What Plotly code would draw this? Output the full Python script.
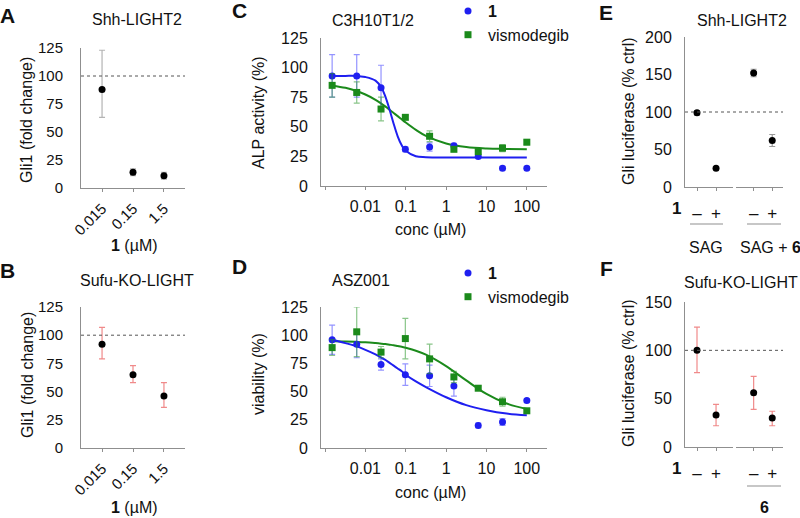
import plotly.graph_objects as go

W, H = 800, 518
FONT = "Liberation Sans, Arial, Helvetica, sans-serif"
AXIS_GREY = "#8f8f8f"
BLUE = "#1f1ff0"
GREEN = "#1b8a1b"

# ---- values ----
dose_labels = ["0.015", "0.15", "1.5"]

a_gli1 = [88, 14, 11]
a_err_up = [35, 3, 3]
a_err_dn = [25, 3, 3]

b_gli1 = [92, 65, 46]
b_err_up = [15, 8, 12]
b_err_dn = [13, 7, 10]

conc = [0.0015, 0.0061, 0.0244, 0.0977, 0.39, 1.56, 6.25, 25, 100]

c_cpd1 = [93, 93, 83, 31, 33, 34, 25, 15, 15]
c_cpd1_err = [18, 18, 19, 2, 3.5, 2, 1.5, 1.5, 1.5]
c_vismo = [85, 79, 65, 58, 42, 31, 29, 32, 37]
c_vismo_err = [10, 9, 10, 1.5, 4.5, 1.5, 2, 3, 2]

d_cpd1 = [96, 92, 74, 65, 64, 55, 20, 23, 42]
d_cpd1_err = [13, 12, 5, 9.5, 9.5, 9, 2, 3, 1.5]
d_vismo = [89, 103, 85, 97, 79, 63, 53, 41, 33]
d_vismo_err = [7, 22, 5, 18, 13, 5, 2, 4, 2]

# fitted curves
fit_conc = [0.0015, 0.0032, 0.0056, 0.01, 0.0178, 0.0251, 0.0316, 0.0398, 0.0501,
            0.0631, 0.0794, 0.1, 0.178, 0.316, 1, 3.16, 10, 31.6, 100]
c_fit_cpd1 = [93, 93, 93, 92, 89, 83, 75, 64.4, 52.6, 42, 34.4, 29.7, 25.1, 24.3,
              24, 24, 24, 24, 24]
c_fit_vismo = [84.7, 82.9, 80.6, 77.3, 72.8, 69.4, 67, 64.4, 61.7, 59, 56.3, 53.6,
               47.4, 42.3, 35.9, 32.9, 31.7, 31.3, 31.1]
d_fit_cpd1 = [96, 93, 90.5, 87, 83, 80, 78, 75.5, 73, 70.5, 68, 65, 59, 54, 45,
              38, 33.5, 30.5, 29]
d_fit_vismo = [94.6, 94.4, 94.1, 93.7, 93, 92.5, 92.1, 91.6, 91.1, 90.4, 89.7, 88.8,
               86.2, 82.7, 72.6, 59.9, 47.9, 39.4, 34.6]

cpd1_labels = ["–", "+"]
e_sag = [99, 25]
e_sag_err = [3, 1.5]
e_sag6 = [152, 62]
e_sag6_err = [5, 8]

f_ctrl = [100, 33]
f_ctrl_up = [24, 11]
f_ctrl_dn = [23, 11]
f_cpd6 = [56, 30]
f_cpd6_up = [17, 7]
f_cpd6_dn = [17, 8]


def px(x):
    return x / W


def py(y):
    return 1 - y / H


def err(up, dn, color):
    return dict(type="data", symmetric=False, array=up, arrayminus=dn,
                color=color, thickness=1.2, width=3)


def black_dots(x, y, up, dn, ecolor, xa, ya):
    return go.Scatter(x=x, y=y, mode="markers", xaxis=xa, yaxis=ya,
                      marker=dict(color="black", size=7),
                      error_y=err(up, dn, ecolor), showlegend=False)


fig = go.Figure()

# A and B: Gli1 vs dose of 1
fig.add_trace(black_dots(dose_labels, a_gli1, a_err_up, a_err_dn, "#b4b4b4", "x", "y"))
fig.add_trace(black_dots(dose_labels, b_gli1, b_err_up, b_err_dn, "#f08a8a", "x2", "y2"))

# C and D: dose-response curves
for xa, ya, s1, e1, s2, e2, f1, f2, leg in [
        ("x3", "y3", c_cpd1, c_cpd1_err, c_vismo, c_vismo_err, c_fit_cpd1, c_fit_vismo, "legend"),
        ("x4", "y4", d_cpd1, d_cpd1_err, d_vismo, d_vismo_err, d_fit_cpd1, d_fit_vismo, "legend2")]:
    fig.add_trace(go.Scatter(x=fit_conc, y=f2, mode="lines", xaxis=xa, yaxis=ya,
                             line=dict(color=GREEN, width=2, shape="spline"),
                             showlegend=False))
    fig.add_trace(go.Scatter(x=fit_conc, y=f1, mode="lines", xaxis=xa, yaxis=ya,
                             line=dict(color=BLUE, width=2, shape="spline"),
                             showlegend=False))
    fig.add_trace(go.Scatter(x=conc, y=s1, mode="markers", xaxis=xa, yaxis=ya,
                             name="<b>1</b>", legend=leg,
                             marker=dict(color=BLUE, size=7, symbol="circle"),
                             error_y=dict(type="data", array=e1, color="rgba(60,60,255,0.55)",
                                          thickness=1.2, width=3)))
    fig.add_trace(go.Scatter(x=conc, y=s2, mode="markers", xaxis=xa, yaxis=ya,
                             name="vismodegib", legend=leg,
                             marker=dict(color=GREEN, size=7, symbol="square"),
                             error_y=dict(type="data", array=e2, color="rgba(40,150,40,0.55)",
                                          thickness=1.2, width=3)))

# E: Shh-LIGHT2 with SAG / SAG + 6
fig.add_trace(black_dots(cpd1_labels, e_sag, e_sag_err, e_sag_err, "#9a9a9a", "x5", "y5"))
fig.add_trace(black_dots(cpd1_labels, e_sag6, e_sag6_err, e_sag6_err, "#9a9a9a", "x6", "y5"))

# F: Sufu-KO-LIGHT with / without 6
fig.add_trace(black_dots(cpd1_labels, f_ctrl, f_ctrl_up, f_ctrl_dn, "#f08a8a", "x7", "y6"))
fig.add_trace(black_dots(cpd1_labels, f_cpd6, f_cpd6_up, f_cpd6_dn, "#f08a8a", "x8", "y6"))

tick_font = dict(family=FONT, size=16, color="#111")
line_kw = dict(showline=True, linecolor=AXIS_GREY, linewidth=1, showgrid=False,
               zeroline=False, mirror=False, automargin=False)


def xcat(dom, rng, anchor, cats, size=15, angle=0, standoff=2):
    return dict(domain=[px(dom[0]), px(dom[1])], range=rng, anchor=anchor,
                type="category", tickmode="array", tickvals=cats,
                ticks="outside", ticklen=3, tickcolor=AXIS_GREY,
                tickangle=angle, tickfont=dict(family=FONT, size=size, color="#111"),
                ticklabelstandoff=standoff, **line_kw)


def yax(dom, rng, anchor, dtick, gap, size=16):
    return dict(domain=[py(dom[1]), py(dom[0])], range=rng, anchor=anchor,
                dtick=dtick, ticks="outside", ticklen=gap, tickcolor="rgba(0,0,0,0)",
                tickfont=dict(family=FONT, size=size, color="#111"), **line_kw)


def xlog(dom, anchor):
    return dict(domain=[px(dom[0]), px(dom[1])], type="log", range=[-3.1, 2.5],
                anchor=anchor, tickvals=[0.001, 0.01, 0.1, 1, 10, 100],
                ticktext=["", "0.01", "0.1", "1", "10", "100"],
                ticks="outside", ticklen=3, tickcolor=AXIS_GREY,
                tickfont=tick_font, ticklabelstandoff=3, **line_kw)


fig.update_layout(
    width=W, height=H, margin=dict(l=0, r=0, t=0, b=0, autoexpand=False),
    paper_bgcolor="white", plot_bgcolor="white",
    font=dict(family=FONT, color="#111"),
    xaxis=xcat([81, 185], [-0.68, 2.68], "y", dose_labels, size=15, angle=-45),
    yaxis=yax([48, 188], [0, 125], "x", 25, 14, size=15),
    xaxis2=xcat([81, 185], [-0.68, 2.68], "y2", dose_labels, size=15, angle=-45),
    yaxis2=yax([307, 448], [0, 125], "x2", 25, 14, size=15),
    xaxis3=xlog([321, 547], "y3"),
    yaxis3=yax([38, 186], [0, 125], "x3", 25, 9),
    xaxis4=xlog([321, 547], "y4"),
    yaxis4=yax([307, 448], [0, 125], "x4", 25, 9),
    xaxis5=xcat([685, 733], [-0.63, 1.89], "y5", cpd1_labels, size=17, standoff=8),
    xaxis6=xcat([736, 783], [-0.95, 1.58], "y5", cpd1_labels, size=17, standoff=8),
    yaxis5=yax([37, 187], [0, 200], "x5", 50, 9),
    xaxis7=xcat([685, 733], [-0.63, 1.89], "y6", cpd1_labels, size=17, standoff=8),
    xaxis8=xcat([736, 783], [-0.95, 1.58], "y6", cpd1_labels, size=17, standoff=8),
    yaxis6=yax([302, 447], [0, 150], "x7", 50, 9),
    legend=dict(x=px(448), y=py(-6), xanchor="left", yanchor="top",
                font=dict(family=FONT, size=16, color="#111"),
                bgcolor="rgba(0,0,0,0)", tracegroupgap=4),
    legend2=dict(x=px(448), y=py(256), xanchor="left", yanchor="top",
                 font=dict(family=FONT, size=16, color="#111"),
                 bgcolor="rgba(0,0,0,0)", tracegroupgap=4),
)

# dotted reference lines at 100 %
for yref, x0, x1 in [("y", 81, 185), ("y2", 81, 185), ("y5", 685, 783), ("y6", 685, 783)]:
    fig.add_shape(type="line", xref="paper", yref=yref, x0=px(x0), x1=px(x1), y0=100, y1=100,
                  line=dict(color="#555", width=1, dash="dot"))

# group underlines under panels E and F
for x0, x1, y in [(690, 723, 224), (747, 781, 224), (747, 781, 486)]:
    fig.add_shape(type="line", xref="paper", yref="paper", x0=px(x0), x1=px(x1),
                  y0=py(y), y1=py(y), line=dict(color=AXIS_GREY, width=1))


def text(s, x, y, size=16, angle=0):
    fig.add_annotation(text=s, x=px(x), y=py(y), xref="paper", yref="paper",
                       showarrow=False, xanchor="center", yanchor="middle",
                       textangle=angle, font=dict(family=FONT, size=size, color="#111"))


# panel letters
for letter, x, y in [("A", 7, 15), ("B", 7, 270), ("C", 239, 11), ("D", 239, 266),
                     ("E", 606, 13), ("F", 606, 268)]:
    text(f"<b>{letter}</b>", x, y, size=21)

# panel titles
text("Shh-LIGHT2", 137, 19)
text("Sufu-KO-LIGHT", 137, 280)
text("C3H10T1/2", 373, 20)
text("ASZ001", 361, 280)
text("Shh-LIGHT2", 742, 20)
text("Sufu-KO-LIGHT", 741, 282)

# axis titles
text("Gli1 (fold change)", 27, 120, angle=-90)
text("Gli1 (fold change)", 27, 375, angle=-90)
text("<b>1</b> (µM)", 134, 246)
text("<b>1</b> (µM)", 134, 507)
text("ALP activity (%)", 258, 113, angle=-90)
text("viability (%)", 258, 374, angle=-90)
text("conc (µM)", 431, 229)
text("conc (µM)", 431, 492)
text("Gli luciferase (% ctrl)", 628, 111, angle=-90)
text("Gli luciferase (% ctrl)", 628, 373, angle=-90)

# treatment labels for E and F
text("<b>1</b>", 676, 208, size=17)
text("<b>1</b>", 676, 468, size=17)
text("SAG", 706, 247)
text("SAG + <b>6</b>", 770, 247)
text("<b>6</b>", 764, 507)

# the page body has a default 8px margin; drop it so the figure fills the window
fig.write_html("out.html", config={"displayModeBar": False},
               post_script="document.body.style.margin = '0px';")
